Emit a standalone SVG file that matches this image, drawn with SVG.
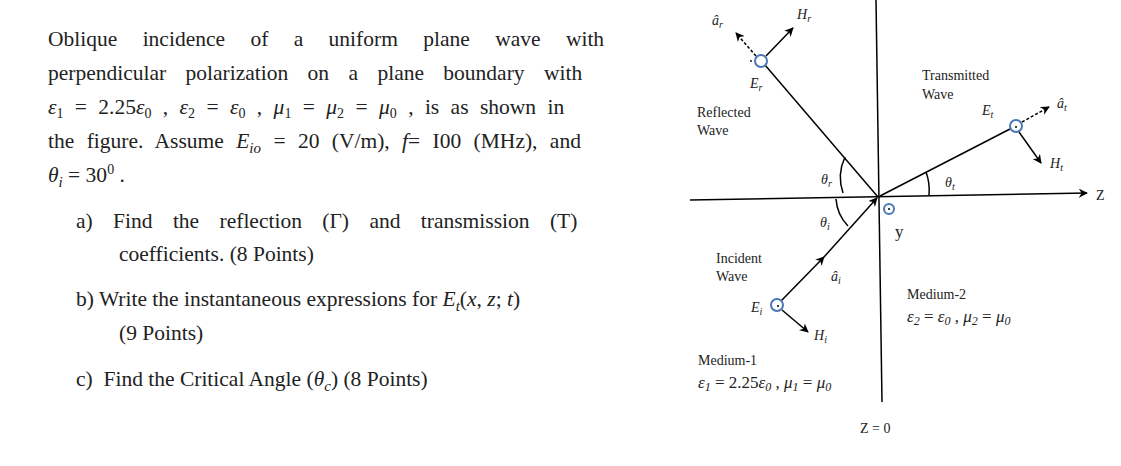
<svg xmlns="http://www.w3.org/2000/svg" width="1121" height="466" viewBox="0 0 1121 466">
<defs>
<marker id="ah" viewBox="0 0 10 10" refX="9" refY="5" markerWidth="9" markerHeight="9" orient="auto" markerUnits="userSpaceOnUse"><path d="M0,0 L10,5 L0,10 L3,5 z" fill="#000"/></marker>
<style>
text{font-family:"Liberation Serif",serif;fill:#222}
.q{font-size:21.5px}
.d{font-size:14px}
.e{font-size:17px}
.i{font-style:italic}
line,path.l{stroke:#000;stroke-width:1.5;fill:none}
.dash{stroke-dasharray:3,2}
circle.c{fill:#fff;stroke:#4a78b5;stroke-width:2}
</style>
</defs>
<rect width="1121" height="466" fill="#fff"/>
<g id="question">
<text class="q" x="48" y="46" word-spacing="20">Oblique incidence of a uniform plane wave with</text>
<text class="q" x="48" y="80" word-spacing="14">perpendicular polarization on a plane boundary with</text>
<text class="q" x="48" y="114" word-spacing="6"><tspan class="i">ε</tspan><tspan font-size="14" dy="4">1</tspan><tspan dy="-4"> = 2.25</tspan><tspan class="i">ε</tspan><tspan font-size="14" dy="4">0</tspan><tspan dy="-4"> , </tspan><tspan class="i">ε</tspan><tspan font-size="14" dy="4">2</tspan><tspan dy="-4"> = </tspan><tspan class="i">ε</tspan><tspan font-size="14" dy="4">0</tspan><tspan dy="-4"> , </tspan><tspan class="i">μ</tspan><tspan font-size="14" dy="4">1</tspan><tspan dy="-4"> = </tspan><tspan class="i">μ</tspan><tspan font-size="14" dy="4">2</tspan><tspan dy="-4"> = </tspan><tspan class="i">μ</tspan><tspan font-size="14" dy="4">0</tspan><tspan dy="-4"> , is as shown in</tspan></text>
<text class="q" x="48" y="148" word-spacing="7">the figure. Assume <tspan class="i">E</tspan><tspan class="i" font-size="15" dy="5">io</tspan><tspan dy="-5"> = 20 (V/m), </tspan><tspan class="i">f</tspan>= I00 (MHz), and</text>
<text class="q" x="48" y="182"><tspan class="i">θ</tspan><tspan class="i" font-size="15" dy="5">i</tspan><tspan dy="-5"> = 30</tspan><tspan font-size="14" dy="-8">0</tspan><tspan dy="8"> .</tspan></text>
<text class="q" x="76" y="228" word-spacing="15">a) Find the reflection (Γ) and transmission (T)</text>
<text class="q" x="119" y="261">coefficients. (8 Points)</text>
<text class="q" x="76" y="306">b) Write the instantaneous expressions for <tspan class="i">E</tspan><tspan class="i" font-size="15" dy="5">t</tspan><tspan dy="-5">(</tspan><tspan class="i">x</tspan>, <tspan class="i">z</tspan>; <tspan class="i">t</tspan>)</text>
<text class="q" x="119" y="340">(9 Points)</text>
<text class="q" x="76" y="386" xml:space="preserve">c)  Find the Critical Angle (<tspan class="i">θ</tspan><tspan class="i" font-size="15" dy="5">c</tspan><tspan dy="-5">) (8 Points)</tspan></text>
</g>
<g id="connectors">
<line x1="876" y1="0" x2="882" y2="402"/>
<line x1="690" y1="200" x2="1087" y2="193" marker-end="url(#ah)"/>
<line x1="878" y1="197" x2="765" y2="65"/>
<line x1="756" y1="56" x2="736" y2="33" class="dash" marker-end="url(#ah)"/>
<line x1="766" y1="56" x2="793" y2="28" marker-end="url(#ah)"/>
<line x1="880" y1="196" x2="1010" y2="129"/>
<line x1="1022" y1="122" x2="1049" y2="107" class="dash" marker-end="url(#ah)"/>
<line x1="1019" y1="132" x2="1041" y2="163" marker-end="url(#ah)"/>
<line x1="781" y1="301" x2="824" y2="257" marker-end="url(#ah)"/>
<line x1="824" y1="257" x2="877" y2="198" marker-end="url(#ah)"/>
<line x1="782" y1="310" x2="808" y2="332" marker-end="url(#ah)"/>
<path class="l" d="M845,157 A48,48 0 0 0 843,193"/>
<path class="l" d="M836,199 A43,43 0 0 0 848,226"/>
<path class="l" d="M926,172 A52,52 0 0 1 929,195"/>
</g>
<g id="reflected"><circle class="c" cx="761" cy="61" r="6"/><circle cx="751" cy="61" r="0.9" fill="#000"/></g>
<g id="transmitted"><circle class="c" cx="1016" cy="126" r="6"/><circle cx="1016" cy="127" r="1" fill="#000"/></g>
<g id="incident"><circle class="c" cx="777" cy="305" r="6"/><circle cx="778" cy="306" r="1" fill="#000"/></g>
<g id="yaxis"><circle class="c" cx="889" cy="209" r="5"/><circle cx="889" cy="209" r="1" fill="#000"/></g>
<g id="labels">
<text class="d i" x="712" y="25">â<tspan font-size="10" dy="3">r</tspan></text>
<text class="d i" x="797" y="19">H<tspan font-size="10" dy="3">r</tspan></text>
<text class="d i" x="750" y="88">E<tspan font-size="10" dy="3">r</tspan></text>
<text class="d" x="697" y="117">Reflected</text>
<text class="d" x="697" y="135">Wave</text>
<text class="d" x="922" y="80">Transmitted</text>
<text class="d" x="922" y="99">Wave</text>
<text class="d i" x="982" y="115">E<tspan font-size="10" dy="3">t</tspan></text>
<text class="d i" x="1057" y="108">â<tspan font-size="10" dy="3">t</tspan></text>
<text class="d i" x="1050" y="168">H<tspan font-size="10" dy="3">t</tspan></text>
<text class="d i" x="821" y="184">θ<tspan font-size="10" dy="3">r</tspan></text>
<text class="d i" x="945" y="187">θ<tspan font-size="10" dy="3">t</tspan></text>
<text class="d" x="1096" y="200">Z</text>
<text class="d i" x="820" y="227">θ<tspan font-size="10" dy="3">i</tspan></text>
<text class="e" x="895" y="237">y</text>
<text class="d" x="716" y="263">Incident</text>
<text class="d" x="716" y="281">Wave</text>
<text class="d i" x="831" y="281">â<tspan font-size="10" dy="3">i</tspan></text>
<text class="d i" x="751" y="312">E<tspan font-size="10" dy="3">i</tspan></text>
<text class="d i" x="814" y="340">H<tspan font-size="10" dy="3">i</tspan></text>
<text class="d" x="907" y="299">Medium-2</text>
<text class="e i" x="907" y="322">ε<tspan font-size="12" dy="3">2</tspan><tspan dy="-3" font-style="normal"> = </tspan>ε<tspan font-size="12" dy="3">0</tspan><tspan dy="-3" font-style="normal"> , </tspan>μ<tspan font-size="12" dy="3">2</tspan><tspan dy="-3" font-style="normal"> = </tspan>μ<tspan font-size="12" dy="3">0</tspan></text>
<text class="d" x="698" y="365">Medium-1</text>
<text class="e i" x="698" y="388">ε<tspan font-size="12" dy="3">1</tspan><tspan dy="-3" font-style="normal"> = 2.25</tspan>ε<tspan font-size="12" dy="3">0</tspan><tspan dy="-3" font-style="normal"> , </tspan>μ<tspan font-size="12" dy="3">1</tspan><tspan dy="-3" font-style="normal"> = </tspan>μ<tspan font-size="12" dy="3">0</tspan></text>
<text class="d" x="860" y="433">Z = 0</text>
</g>
</svg>
